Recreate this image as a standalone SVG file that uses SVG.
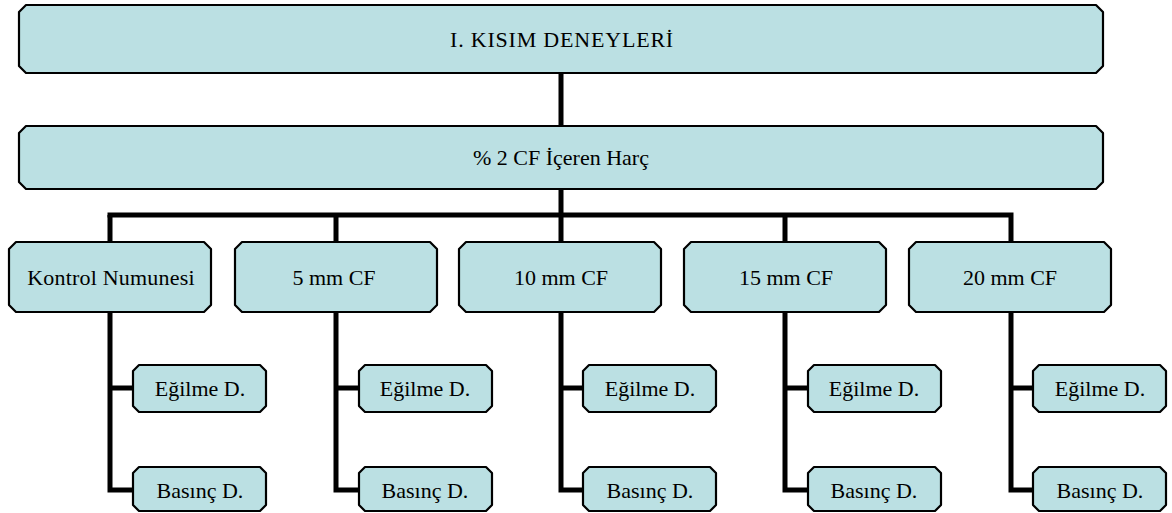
<svg xmlns="http://www.w3.org/2000/svg" width="1172" height="513" viewBox="0 0 1172 513">
<style>
.box{fill:#BBE0E3;stroke:#000;stroke-width:2.2;stroke-linejoin:round}
.t{font-family:'Liberation Serif','Times New Roman',serif;font-size:22px;fill:#000;text-anchor:middle}
.c{fill:none;stroke:#000;stroke-width:5;stroke-linejoin:miter;stroke-linecap:butt}
</style>
<rect width="1172" height="513" fill="#fff"/>
<g id="connectors">
<path class="c" d="M561,73V215"/>
<path class="c" d="M110,217.5V215H1011V242"/>
<path class="c" d="M110,215V242M336,215V242M561,215V242M785,215V242"/>
<path class="c" d="M110,312V490H133M110,388H133"/>
<path class="c" d="M336,312V490H359M336,388H359"/>
<path class="c" d="M561,312V490H583M561,388H583"/>
<path class="c" d="M785,312V490H808M785,388H808"/>
<path class="c" d="M1011,312V490H1033M1011,388H1033"/>
</g>
<g id="n-top"><path class="box" d="M26,5H1096L1103,12V66L1096,73H26L19,66V12Z"/><text class="t" x="562" y="47" letter-spacing="0.8">I. KISIM DENEYLERİ</text></g>
<g id="n-harc"><path class="box" d="M26,126H1096L1103,133V182L1096,189H26L19,182V133Z"/><text class="t" x="561" y="165">% 2 CF İçeren Harç</text></g>
<g id="n-kontrol"><path class="box" d="M16,242H204L211,249V305L204,312H16L9,305V249Z"/><text class="t" x="111" y="285" letter-spacing="0.2">Kontrol Numunesi</text></g>
<g id="n-5mm"><path class="box" d="M242,242H430L437,249V305L430,312H242L235,305V249Z"/><text class="t" x="334" y="285">5 mm CF</text></g>
<g id="n-10mm"><path class="box" d="M466,242H654L661,249V305L654,312H466L459,305V249Z"/><text class="t" x="561" y="285">10 mm CF</text></g>
<g id="n-15mm"><path class="box" d="M691,242H879L886,249V305L879,312H691L684,305V249Z"/><text class="t" x="786" y="285">15 mm CF</text></g>
<g id="n-20mm"><path class="box" d="M916,242H1104L1111,249V305L1104,312H916L909,305V249Z"/><text class="t" x="1010" y="285">20 mm CF</text></g>
<g id="n-e1"><path class="box" d="M139,365H260L266,371V406L260,412H139L133,406V371Z"/><text class="t" x="200" y="396">Eğilme D.</text></g>
<g id="n-b1"><path class="box" d="M139,467H260L266,473V505L260,511H139L133,505V473Z"/><text class="t" x="200" y="498">Basınç D.</text></g>
<g id="n-e2"><path class="box" d="M365,365H486L492,371V406L486,412H365L359,406V371Z"/><text class="t" x="425" y="396">Eğilme D.</text></g>
<g id="n-b2"><path class="box" d="M365,467H486L492,473V505L486,511H365L359,505V473Z"/><text class="t" x="425" y="498">Basınç D.</text></g>
<g id="n-e3"><path class="box" d="M589,365H710L716,371V406L710,412H589L583,406V371Z"/><text class="t" x="650" y="396">Eğilme D.</text></g>
<g id="n-b3"><path class="box" d="M589,467H710L716,473V505L710,511H589L583,505V473Z"/><text class="t" x="650" y="498">Basınç D.</text></g>
<g id="n-e4"><path class="box" d="M814,365H935L941,371V406L935,412H814L808,406V371Z"/><text class="t" x="874" y="396">Eğilme D.</text></g>
<g id="n-b4"><path class="box" d="M814,467H935L941,473V505L935,511H814L808,505V473Z"/><text class="t" x="874" y="498">Basınç D.</text></g>
<g id="n-e5"><path class="box" d="M1039,365H1160L1166,371V406L1160,412H1039L1033,406V371Z"/><text class="t" x="1100" y="396">Eğilme D.</text></g>
<g id="n-b5"><path class="box" d="M1039,467H1160L1166,473V505L1160,511H1039L1033,505V473Z"/><text class="t" x="1100" y="498">Basınç D.</text></g>
</svg>
